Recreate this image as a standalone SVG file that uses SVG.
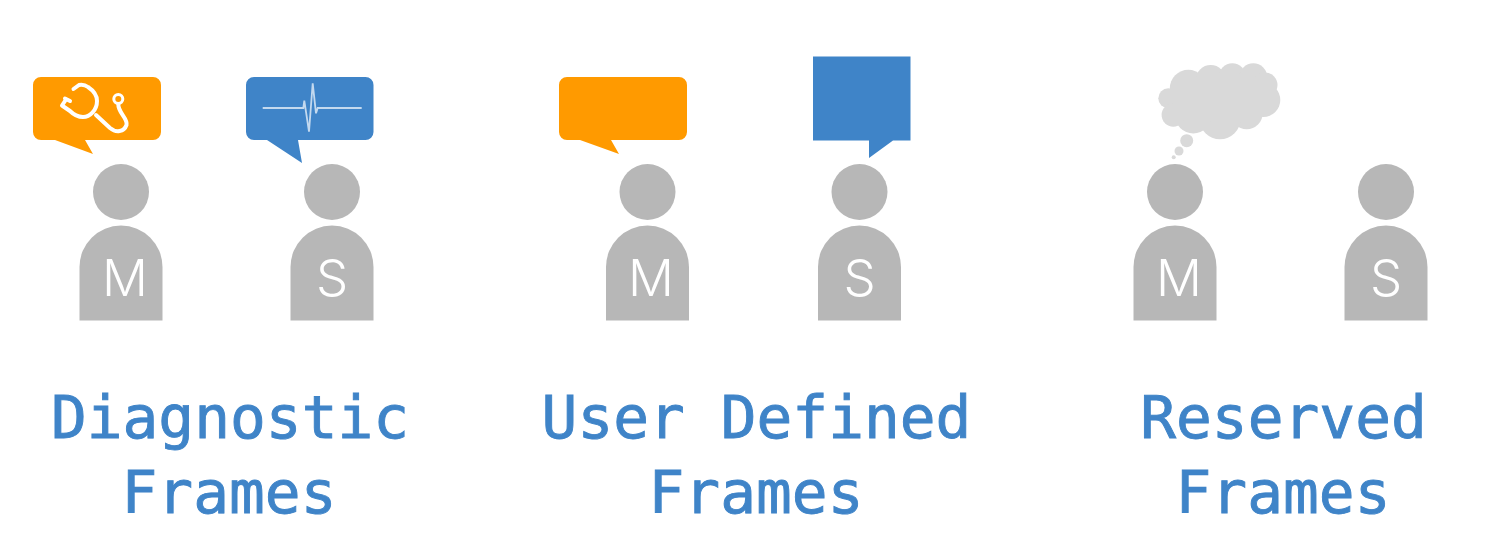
<svg xmlns="http://www.w3.org/2000/svg" width="1498" height="548" viewBox="0 0 1498 548">
<style>
.p{fill:#b7b7b7}
.o{fill:#ff9a00}
.b{fill:#3f84c8}
.c{fill:#d9d9d9}
.l{font-family:"Inter","Lato",sans-serif;font-weight:300;font-size:51px;fill:#fff;text-anchor:middle}
.t{font-family:"DejaVu Sans Mono","Liberation Mono",monospace;font-size:59.5px;fill:#3f84c8;stroke:#3f84c8;stroke-width:.9px;text-anchor:middle}
.s{fill:none;stroke:#fff;stroke-width:4;stroke-linecap:round;stroke-linejoin:round}
</style>
<defs>
<g id="person"><circle cx="0" cy="192" r="28"/><path d="M-41.5 320.5V267A41.5 41.5 0 0 1 41.5 267V320.5Z"/></g>
</defs>
<rect width="1498" height="548" fill="#fff"/>
<g id="diagnostic-master">
<use href="#person" x="121" class="p"/><text class="l" x="125" y="296">M</text>
<path class="o" d="M41 77H153A8 8 0 0 1 161 85V132A8 8 0 0 1 153 140H85L93 154L55 140H41A8 8 0 0 1 33 132V85A8 8 0 0 1 41 77Z"/>
<path class="s" d="M73.500 89L79 85Q84 84 88 87C94 91 97 96 97 101C97 110 90 117 83 117C77 117 73 114 70 111L62 105.500L66 99.500M65 98.500L70 101M96 115L110 128C116 133 124 132 126.500 125C128 118 118 113 118.300 104"/>
<circle cx="118.300" cy="99" r="4.500" fill="none" stroke="#fff" stroke-width="3"/>
</g>
<g id="diagnostic-slave">
<use href="#person" x="332" class="p"/><text class="l" x="332" y="296">S</text>
<path class="b" d="M254 77H365.500A8 8 0 0 1 373.500 85V132A8 8 0 0 1 365.500 140H298L302 163L267 140H254A8 8 0 0 1 246 132V85A8 8 0 0 1 254 77Z"/>
<path d="M262.700 108H303.300L304.300 100.700L309 131.700L312.700 83.300L316 113.300L317.700 108H361.700" fill="none" stroke="#c3d9ef" stroke-width="1.800"/>
</g>
<g id="user-master">
<use href="#person" x="647.500" class="p"/><text class="l" x="651" y="296">M</text>
<path class="o" d="M567 77H679A8 8 0 0 1 687 85V132A8 8 0 0 1 679 140H611L619 154L580 140H567A8 8 0 0 1 559 132V85A8 8 0 0 1 567 77Z"/>
</g>
<g id="user-slave">
<use href="#person" x="859.500" class="p"/><text class="l" x="859.500" y="296">S</text>
<path class="b" d="M813 56.500H910.500V140.500H893L869 158V140.500H813Z"/>
</g>
<g id="reserved-master">
<use href="#person" x="1175" class="p"/><text class="l" x="1179" y="296">M</text>
<g class="c">
<circle cx="1168.300" cy="98.300" r="10"/><circle cx="1188.300" cy="88.300" r="18.500"/><circle cx="1210.700" cy="80" r="15"/><circle cx="1232.300" cy="76.700" r="13.500"/><circle cx="1253.300" cy="77.300" r="14"/><circle cx="1265" cy="85" r="12.500"/><circle cx="1263.300" cy="100" r="17"/><circle cx="1246.700" cy="113.300" r="16"/><circle cx="1220" cy="118.800" r="20.500"/><circle cx="1193.300" cy="115" r="18.500"/><circle cx="1173.300" cy="115" r="11.700"/><rect x="1175" y="78" width="85" height="40"/>
<circle cx="1186.700" cy="140.700" r="6.500"/><circle cx="1179" cy="151" r="4.500"/><circle cx="1173.700" cy="157.300" r="2"/>
</g>
</g>
<g id="reserved-slave">
<use href="#person" x="1386" class="p"/><text class="l" x="1386" y="296">S</text>
</g>
<g id="labels">
<text class="t" x="230" y="438">Diagnostic</text><text class="t" x="229" y="513">Frames</text>
<text class="t" x="756.500" y="438">User Defined</text><text class="t" x="756" y="513">Frames</text>
<text class="t" x="1283.500" y="438">Reserved</text><text class="t" x="1283" y="513">Frames</text>
</g>
<g id="connectors"/>
</svg>
